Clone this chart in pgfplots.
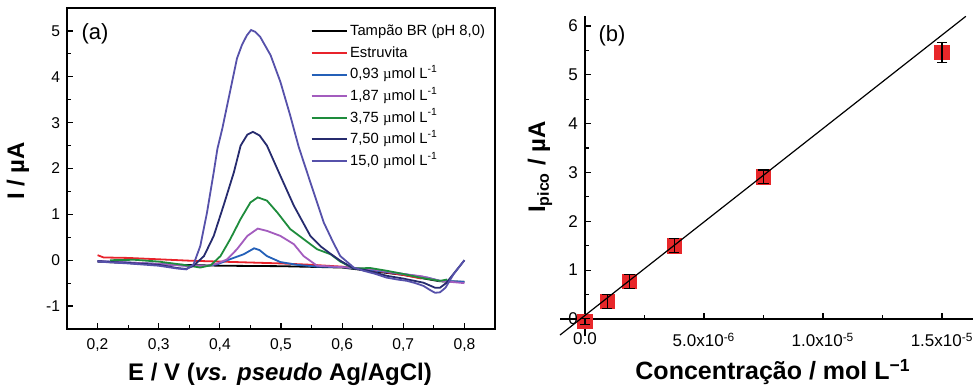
\documentclass[border=0pt]{standalone}
\usepackage{fontspec}
\setmainfont{Liberation Sans}
\newfontfamily\seriff{Liberation Serif}
\usepackage{pgfplots}
\pgfplotsset{compat=1.18}
\definecolor{cRed}{HTML}{E8232B}
\definecolor{cBlue}{HTML}{2460B8}
\definecolor{cPurple}{HTML}{A35CBE}
\definecolor{cGreen}{HTML}{1E8C3C}
\definecolor{cNavy}{HTML}{262B6E}
\definecolor{cSlate}{HTML}{5651AA}
\definecolor{cSq}{HTML}{E8272A}
\newcommand{\umol}{{\seriff µ}mol L\textsuperscript{-1}}
\begin{document}
\begin{tikzpicture}[x=1pt,y=1pt]
\useasboundingbox (0,0) rectangle (486.5,193.5);
% ---------------- (a) ----------------
\begin{axis}[
  at={(33.5pt,29pt)}, anchor=south west, scale only axis,
  width=214pt, height=160.5pt,
  xmin=0.15, xmax=0.85, ymin=-1.5, ymax=5.5,
  axis line style={line width=0.8pt},
  tick align=inside, tick pos=left,
  major tick length=3pt, minor tick length=1.8pt,
  every tick/.style={line width=0.6pt, black},
  xtick={0.2,0.3,0.4,0.5,0.6,0.7,0.8},
  xticklabels={{0,2},{0,3},{0,4},{0,5},{0,6},{0,7},{0,8}},
  minor xtick={0.25,0.35,0.45,0.55,0.65,0.75},
  ytick={-1,0,1,2,3,4,5},
  yticklabels={-1,0,1,2,3,4,5},
  minor ytick={-0.5,0.5,1.5,2.5,3.5,4.5},
  tick label style={font=\fontsize{7.8}{9}\selectfont},
  xticklabel style={yshift=-1.5pt},
  legend style={at={(0.568,0.962)}, anchor=north west, draw=none, fill=none,
    font=\fontsize{7.4}{8}\selectfont, inner sep=0pt, row sep=0pt,
    nodes={inner xsep=1.3pt, inner ysep=1.9pt, text height=5.6pt, text depth=1.4pt}},
  legend cell align=left,
  legend image code/.code={\draw[#1, line width=1pt] (0pt,0pt) -- (17.5pt,0pt);},
  every axis plot/.append style={line width=0.9pt},
]
\addplot[black] coordinates {(0.20,-0.03) (0.30,-0.09) (0.40,-0.12) (0.50,-0.13) (0.60,-0.16) (0.70,-0.32) (0.76,-0.46) (0.80,-0.47)};
\addlegendentry{Tampão BR (pH 8,0)}
\addplot[cRed] coordinates {(0.20,0.11) (0.21,0.06) (0.25,0.05) (0.30,0.02) (0.35,-0.01) (0.40,-0.03) (0.45,-0.05) (0.50,-0.07) (0.55,-0.10) (0.60,-0.14) (0.65,-0.22) (0.70,-0.32) (0.73,-0.40)};
\addlegendentry{Estruvita}
\addplot[cBlue] coordinates {(0.20,-0.02) (0.30,-0.08) (0.35,-0.12) (0.38,-0.12) (0.396,-0.09) (0.412,0.0) (0.439,0.13) (0.456,0.26) (0.465,0.22) (0.477,0.09) (0.499,-0.04) (0.526,-0.10) (0.559,-0.14) (0.60,-0.15) (0.65,-0.22) (0.70,-0.30) (0.74,-0.38) (0.76,-0.45) (0.80,-0.47)};
\addlegendentry{0,93 \umol}
\addplot[cPurple] coordinates {(0.20,-0.02) (0.30,-0.08) (0.35,-0.13) (0.38,-0.12) (0.396,-0.07) (0.412,0.02) (0.428,0.24) (0.445,0.53) (0.462,0.69) (0.477,0.64) (0.499,0.53) (0.521,0.35) (0.537,0.09) (0.559,-0.12) (0.60,-0.15) (0.65,-0.20) (0.70,-0.30) (0.73,-0.35) (0.76,-0.45) (0.80,-0.50)};
\addlegendentry{1,87 \umol}
\addplot[cGreen] coordinates {(0.22,0.00) (0.26,0.01) (0.30,-0.03) (0.34,-0.10) (0.368,-0.16) (0.385,-0.11) (0.401,0.09) (0.417,0.46) (0.434,0.90) (0.450,1.26) (0.462,1.37) (0.477,1.30) (0.494,1.04) (0.515,0.68) (0.537,0.46) (0.559,0.24) (0.581,0.13) (0.597,-0.03) (0.619,-0.18) (0.646,-0.17) (0.673,-0.23) (0.70,-0.30) (0.728,-0.38) (0.76,-0.45) (0.772,-0.42)};
\addlegendentry{3,75 \umol}
\addplot[cNavy] coordinates {(0.20,-0.02) (0.25,-0.06) (0.30,-0.10) (0.33,-0.17) (0.345,-0.19) (0.357,-0.12) (0.374,0.09) (0.390,0.53) (0.406,1.19) (0.423,1.92) (0.434,2.50) (0.445,2.74) (0.454,2.80) (0.465,2.72) (0.477,2.50) (0.499,1.84) (0.521,1.19) (0.548,0.53) (0.565,0.30) (0.580,0.15) (0.597,-0.01) (0.619,-0.18) (0.64,-0.22) (0.673,-0.34) (0.70,-0.40) (0.733,-0.49) (0.752,-0.60) (0.76,-0.60) (0.77,-0.50) (0.785,-0.25) (0.80,0.0)};
\addlegendentry{7,50 \umol}
\addplot[cSlate] coordinates {(0.20,-0.03) (0.25,-0.07) (0.30,-0.12) (0.33,-0.18) (0.345,-0.20) (0.357,-0.09) (0.368,0.31) (0.379,1.04) (0.390,1.92) (0.396,2.43) (0.404,2.87) (0.412,3.38) (0.420,3.89) (0.428,4.40) (0.436,4.69) (0.444,4.90) (0.451,5.02) (0.458,4.98) (0.466,4.87) (0.483,4.47) (0.499,3.89) (0.515,3.16) (0.529,2.47) (0.548,1.70) (0.570,0.82) (0.585,0.40) (0.597,0.09) (0.619,-0.16) (0.635,-0.23) (0.655,-0.30) (0.673,-0.38) (0.69,-0.42) (0.706,-0.45) (0.72,-0.50) (0.733,-0.56) (0.745,-0.66) (0.752,-0.71) (0.76,-0.70) (0.769,-0.60) (0.782,-0.31) (0.80,0.0)};
\addlegendentry{15,0 \umol}
\end{axis}
% ---------------- (b) ----------------
\begin{axis}[
  at={(280pt,25.5pt)}, anchor=south west, scale only axis,
  width=206.5pt, height=159.85pt,
  xmin=-1.05e-6, xmax=1.63e-5, ymin=-0.35, ymax=6.2,
  axis lines=middle, axis line style={-, line width=0.8pt},
  tick align=inside,
  major tick length=3pt, minor tick length=1.8pt,
  every tick/.style={line width=0.6pt, black},
  hide obscured x ticks=false, hide obscured y ticks=false,
  scaled x ticks=false,
  xtick={0,5e-6,1e-5,1.5e-5},
  xticklabels={0.0,{5.0x10\textsuperscript{-6}},{1.0x10\textsuperscript{-5}},{1.5x10\textsuperscript{-5}}},
  minor xtick={2.5e-6,7.5e-6,1.25e-5},
  ytick={0,1,2,3,4,5,6},
  yticklabels={0,1,2,3,4,5,6},
  minor ytick={0.5,1.5,2.5,3.5,4.5,5.5},
  tick label style={font=\fontsize{8.5}{10}\selectfont},
  xticklabel style={yshift=-3.5pt},
  clip=false, clip marker paths=true,
]
\addplot[only marks, mark=square*, mark size=3.6pt, mark options={fill=cSq, draw=cSq}] coordinates {(0,-0.05) (0.93e-6,0.36) (1.87e-6,0.77) (3.75e-6,1.50) (7.5e-6,2.91) (1.5e-5,5.46)};
\addplot[black, line width=0.6pt] coordinates {(-1.05e-6,-0.33) (1.60e-5,6.2)};
\addplot[draw=none, mark=none, error bars/.cd, y dir=both, y explicit,
  error bar style={draw=black, line width=0.6pt},
  error mark options={draw=black, rotate=90, mark size=2.6pt, line width=0.6pt}]
  table[x=x, y=y, y error=e] {
x y e
0 -0.05 0.06
0.93e-6 0.36 0.14
1.87e-6 0.77 0.14
3.75e-6 1.50 0.14
7.5e-6 2.91 0.14
1.5e-5 5.46 0.20
};
\end{axis}
% ---------------- labels ----------------
\node[font=\fontsize{11}{13}\selectfont] at (47.5,176.5) {(a)};
\node[font=\fontsize{11}{13}\selectfont] at (306,175.5) {(b)};
\node[font=\bfseries\fontsize{12}{14}\selectfont] at (140,6.5) {E / V (\textit{vs. pseudo} Ag/AgCl)};
\node[font=\bfseries\fontsize{12}{14}\selectfont, rotate=90] at (9,108) {I / µA};
\node[font=\bfseries\fontsize{12}{14}\selectfont, rotate=90] at (270,110) {I\textsubscript{pico} / µA};
\node[font=\bfseries\fontsize{12.5}{14}\selectfont] at (386.5,7.5) {Concentração / mol L\textsuperscript{−1}};
\end{tikzpicture}
\end{document}
